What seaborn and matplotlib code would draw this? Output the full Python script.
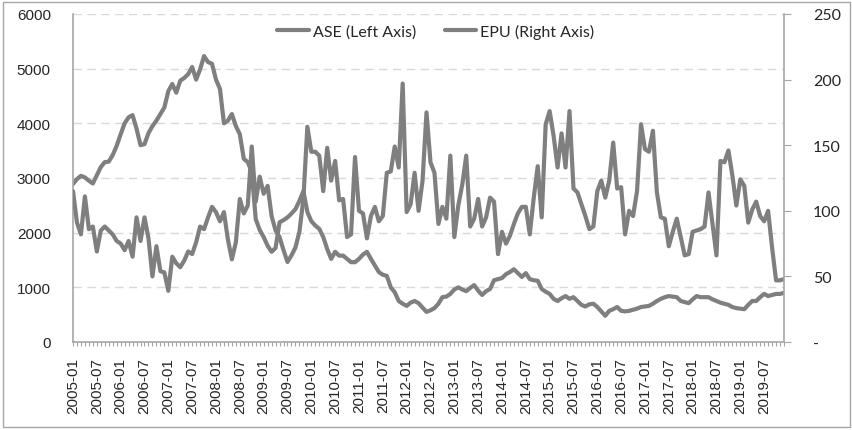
import pandas as pd
import matplotlib
matplotlib.use('Agg')
import matplotlib.pyplot as plt
import seaborn as sns
from matplotlib.patches import Rectangle
from matplotlib.ticker import MultipleLocator

months = pd.date_range('2005-01-01', '2019-12-01', freq='MS').strftime('%Y-%m').tolist()

# ASE general index (left axis), one row per year
ase = [2890, 2980, 3040, 3010, 2950, 2900, 3050, 3200, 3290, 3300, 3420, 3590,
       3800, 4000, 4110, 4150, 3900, 3600, 3620, 3820, 3950, 4050, 4170, 4290,
       4590, 4720, 4560, 4780, 4830, 4900, 5030, 4800, 4990, 5230, 5120, 5090,
       4800, 4630, 4000, 4050, 4170, 3950, 3800, 3350, 3290, 3110, 2250, 2050,
       1920, 1760, 1650, 1720, 2190, 2230, 2280, 2350, 2430, 2580, 2760, 2380,
       2210, 2130, 2070, 1920, 1700, 1520, 1650, 1580, 1580, 1520, 1460, 1460,
       1520, 1600, 1650, 1520, 1400, 1280, 1230, 1210, 1000, 910, 750, 700,
       660, 720, 750, 710, 630, 550, 580, 620, 700, 820, 830, 880,
       960, 1000, 960, 930, 990, 1040, 940, 860, 930, 970, 1130, 1150,
       1170, 1240, 1280, 1330, 1260, 1190, 1260, 1150, 1130, 1120, 970, 920,
       880, 790, 750, 800, 840, 790, 820, 750, 680, 650, 690, 700,
       640, 560, 480, 570, 600, 640, 570, 560, 570, 590, 610, 640,
       650, 660, 700, 750, 790, 820, 840, 830, 820, 750, 730, 710,
       780, 840, 820, 820, 820, 780, 750, 720, 700, 680, 640, 620,
       610, 600, 680, 750, 750, 820, 880, 840, 860, 880, 880, 900]

# EPU index (right axis)
epu = [115, 91, 82, 111, 86, 88, 69, 85, 88, 85, 82, 77,
       75, 70, 77, 65, 95, 77, 95, 79, 50, 73, 54, 53,
       39, 65, 60, 57, 62, 69, 67, 76, 88, 86, 95, 103,
       99, 92, 99, 78, 63, 76, 109, 98, 104, 149, 107, 126,
       113, 119, 96, 85, 80, 70, 61, 66, 72, 84, 109, 164,
       145, 145, 142, 115, 148, 123, 138, 108, 109, 80, 82, 141,
       100, 98, 79, 96, 103, 92, 96, 129, 130, 149, 133, 197,
       99, 105, 129, 100, 123, 175, 137, 129, 90, 103, 94, 142,
       80, 104, 120, 142, 88, 94, 109, 88, 95, 110, 107, 67,
       84, 75, 81, 90, 98, 103, 103, 82, 110, 134, 95, 166,
       176, 157, 133, 159, 133, 176, 117, 114, 105, 96, 86, 88,
       115, 123, 110, 123, 152, 117, 118, 82, 100, 96, 115, 166,
       147, 145, 161, 114, 95, 94, 73, 84, 94, 80, 66, 67,
       84, 85, 86, 88, 114, 90, 66, 138, 137, 146, 127, 104,
       124, 119, 91, 101, 107, 96, 92, 100, 72, 47, 47, 48]

df = pd.DataFrame({'t': range(len(months)), 'month': months, 'ASE': ase, 'EPU': epu})

sns.set_style('white')
plt.rcParams['font.family'] = ['Liberation Sans', 'DejaVu Sans']

grey = '#7f7f7f'
axis_grey = '#a6a6a6'

fig = plt.figure(figsize=(8.53, 4.31), dpi=100)
ax = fig.add_axes([73 / 853, 1 - 343 / 431, (784 - 73) / 853, (343 - 15) / 431])
ax2 = ax.twinx()

sns.lineplot(data=df, x='t', y='ASE', ax=ax, color=grey, linewidth=3,
             label='ASE (Left Axis)', legend=False)
sns.lineplot(data=df, x='t', y='EPU', ax=ax2, color=grey, linewidth=3,
             label='EPU (Right Axis)', legend=False)

ax.set_xlim(0, len(months) - 1)
ax.set_ylim(0, 6000)
ax2.set_ylim(0, 250)
ax.set_xlabel('')
ax.set_ylabel('')
ax2.set_ylabel('')

ax.set_xticks(range(0, len(months), 6))
ax.set_xticklabels(months[::6], rotation=90, fontsize=11)
ax.xaxis.set_minor_locator(MultipleLocator(1))
ax.tick_params(axis='x', which='both', length=3, width=0.8, color=axis_grey,
               direction='out', pad=8, bottom=True)

ax.set_yticks(range(0, 6001, 1000))
ax.tick_params(axis='y', length=0, pad=16, labelsize=11)
ax.yaxis.grid(True, color='#d9d9d9', linestyle=(0, (6, 4)), linewidth=1)

r_ticks = list(range(0, 251, 50))
ax2.set_yticks(r_ticks)
ax2.set_yticklabels(['-' if v == 0 else str(v) for v in r_ticks],
                    fontfamily='Lato', fontsize=11.5)
ax2.tick_params(axis='y', length=5, width=0.8, color=axis_grey, direction='out', pad=16)

for name in ['top', 'right']:
    ax.spines[name].set_visible(False)
for name in ['top', 'left', 'bottom']:
    ax2.spines[name].set_visible(False)
ax.spines['left'].set_color(axis_grey)
ax.spines['bottom'].set_color(axis_grey)
ax2.spines['right'].set_color(axis_grey)
for sp in [ax.spines['left'], ax.spines['bottom'], ax2.spines['right']]:
    sp.set_linewidth(1.2)

handles = ax.get_lines()[:1] + ax2.get_lines()[:1]
ax2.legend(handles, [h.get_label() for h in handles], loc='upper center',
           bbox_to_anchor=(0.51, 1.015), ncol=2, frameon=False,
           prop={'family': 'Lato', 'size': 11.5}, handlelength=2.0,
           handletextpad=0.2, columnspacing=1.8)

fig.patches.append(Rectangle((0.003, 0.006), 0.994, 0.988, transform=fig.transFigure,
                             fill=False, edgecolor=axis_grey, linewidth=1))

fig.savefig('out.png', dpi=100)
